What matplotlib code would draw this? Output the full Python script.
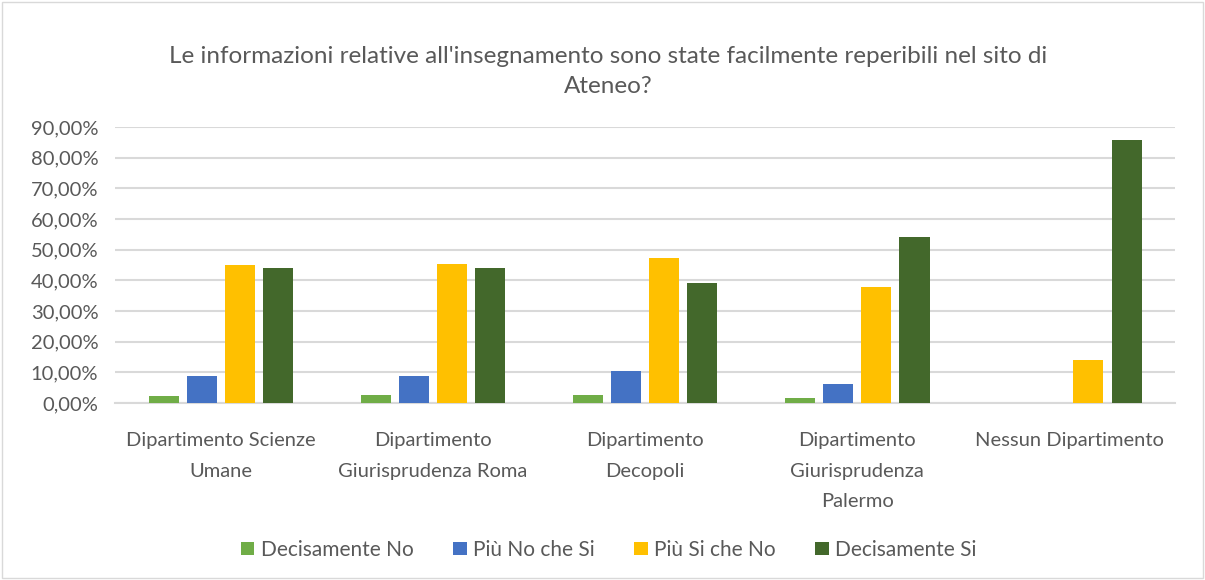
import matplotlib.pyplot as plt
import numpy as np
from matplotlib.ticker import FuncFormatter

plt.rcParams['font.family'] = ['Lato', 'DejaVu Sans']

# Dati
categorie = ['Dipartimento Scienze\nUmane', 'Dipartimento\nGiurisprudenza Roma',
             'Dipartimento\nDecopoli', 'Dipartimento\nGiurisprudenza\nPalermo',
             'Nessun Dipartimento']
decisamente_no = [2.3, 2.5, 2.7, 1.6, 0.0]
piu_no_che_si = [8.7, 8.7, 10.5, 6.2, 0.0]
piu_si_che_no = [44.9, 45.2, 47.2, 38.0, 14.1]
decisamente_si = [44.2, 43.9, 39.3, 54.1, 85.9]

serie = ['Decisamente No', 'Più No che Si', 'Più Si che No', 'Decisamente Si']
colori = ['#70ad47', '#4472c4', '#ffc000', '#43682b']
valori = [decisamente_no, piu_no_che_si, piu_si_che_no, decisamente_si]

grigio = '#595959'

fig = plt.figure(figsize=(12.05, 5.8), dpi=100)
ax = fig.add_axes([0.0954, 0.305, 0.88, 0.476])

x = np.arange(len(categorie))
larghezza = 0.142
passo = 0.18
for i in range(4):
    ax.bar(x + (i - 1.5) * passo, valori[i], width=larghezza, color=colori[i],
           label=serie[i], zorder=3)

ax.set_xlim(-0.5, len(categorie) - 0.5)
ax.set_ylim(0, 90)
ax.set_yticks(np.arange(0, 91, 10))
ax.yaxis.set_major_formatter(FuncFormatter(lambda v, p: ('%.2f' % v).replace('.', ',') + '%'))
ax.grid(axis='y', color='#d9d9d9', linewidth=1.5, zorder=0)
for s in ['top', 'right', 'left']:
    ax.spines[s].set_visible(False)
ax.spines['bottom'].set_color('#d9d9d9')
ax.spines['bottom'].set_linewidth(1.5)
ax.tick_params(axis='both', length=0, colors=grigio, labelsize=14.5)
ax.tick_params(axis='y', pad=12)
ax.tick_params(axis='x', pad=21)
ax.set_xticks(x)
ax.set_xticklabels(categorie, linespacing=1.95)

fig.text(0.505, 0.877, "Le informazioni relative all'insegnamento sono state facilmente reperibili nel sito di\nAteneo?",
         ha='center', va='center', fontsize=17.5, color=grigio, linespacing=1.5)

fig.legend(loc='center', bbox_to_anchor=(0.505, 0.052), ncol=4, frameon=False,
           fontsize=15, labelcolor=grigio, handlelength=0.65, handleheight=0.65,
           handletextpad=0.3, columnspacing=1.9)

bordo = plt.Rectangle((0.002, 0.003), 0.996, 0.994, transform=fig.transFigure,
                      fill=False, edgecolor='#d9d9d9', linewidth=1)
fig.patches.append(bordo)

fig.savefig('out.png', dpi=100)
